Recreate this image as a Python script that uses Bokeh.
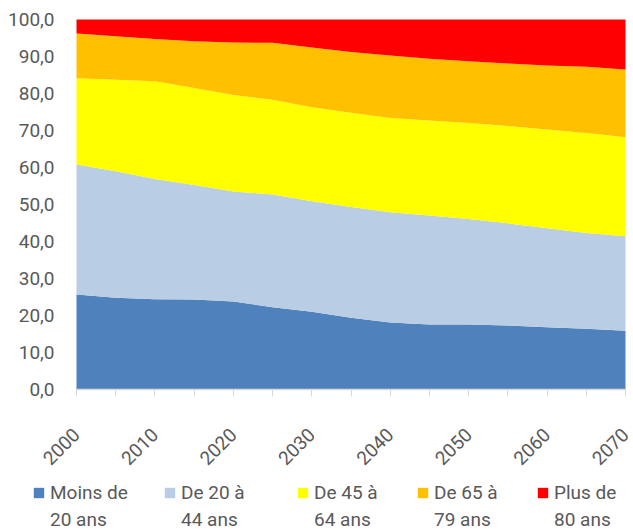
import math
from bokeh.plotting import figure
from bokeh.models import FixedTicker, Legend, LegendItem, Range1d
from bokeh.embed import file_html
from bokeh.resources import INLINE

years = [2000, 2005, 2010, 2015, 2020, 2025, 2030, 2035, 2040, 2045, 2050, 2055, 2060, 2065, 2070]
moins_20 = [25.7, 24.8, 24.4, 24.3, 23.8, 22.2, 21.0, 19.4, 18.1, 17.6, 17.6, 17.3, 16.8, 16.4, 15.9]
de_20_44 = [35.1, 34.2, 32.5, 31.0, 29.7, 30.5, 29.9, 29.9, 29.8, 29.4, 28.5, 27.6, 26.8, 25.9, 25.5]
de_45_64 = [23.3, 24.7, 26.4, 26.2, 26.1, 25.6, 25.4, 25.5, 25.5, 25.7, 25.9, 26.3, 26.7, 27.0, 26.8]
de_65_79 = [12.1, 11.8, 11.4, 12.6, 14.2, 15.4, 16.1, 16.4, 16.9, 16.7, 16.7, 16.9, 17.3, 17.9, 18.3]
plus_80 = [3.8, 4.5, 5.3, 5.9, 6.2, 6.3, 7.6, 8.8, 9.7, 10.6, 11.3, 11.9, 12.4, 12.8, 13.5]

series_keys = ["m20", "d20", "d45", "d65", "p80"]
label_line1 = ["Moins de", "De 20 à", "De 45 à", "De 65 à", "Plus de"]
label_line2 = ["20 ans", "44 ans", "64 ans", "79 ans", "80 ans"]
colors = ["#4f81bd", "#b9cde5", "#ffff00", "#ffc000", "#ff0000"]

x_label_ticks = [2000, 2010, 2020, 2030, 2040, 2050, 2060, 2070]
x_minor_ticks = [2005, 2015, 2025, 2035, 2045, 2055, 2065]
y_ticks = [0, 10, 20, 30, 40, 50, 60, 70, 80, 90, 100]
y_tick_labels = ["0,0", "10,0", "20,0", "30,0", "40,0", "50,0", "60,0", "70,0", "80,0", "90,0", "100,0"]

data = dict(year=years, m20=moins_20, d20=de_20_44, d45=de_45_64, d65=de_65_79, p80=plus_80)

FONT = "Roboto"
FSIZE = "19px"
GRAY = "#595959"

W, H = 633, 531
# plot area in pixels (left, right, top, bottom) -> ranges extended so the
# whole canvas is the frame and the axes sit at fixed data positions
PL, PR, PT, PB = 76, 625, 19, 389
x0, x1 = years[0], years[-1]
y0, y1 = 0, 100
sx = (PR - PL) / (x1 - x0)
sy = (PB - PT) / (y1 - y0)
x_range = Range1d(x0 - PL / sx, x1 + (W - PR) / sx)
y_range = Range1d(y0 - (H - PB) / sy, y1 + PT / sy)

p = figure(width=W, height=H, output_backend="svg", toolbar_location=None,
           x_range=x_range, y_range=y_range,
           min_border_left=0, min_border_right=0, min_border_top=0, min_border_bottom=0)
p.outline_line_color = None
p.background_fill_color = "white"
p.grid.visible = False

rends = p.varea_stack(stackers=series_keys, x="year", color=colors, source=data)

xa = p.xaxis[0]
xa.fixed_location = y0
xa.bounds = (x0, x1)
xa.ticker = FixedTicker(ticks=x_label_ticks, minor_ticks=x_minor_ticks)
xa.major_label_overrides = {t: str(t) for t in x_label_ticks}
xa.major_label_orientation = math.pi / 4
xa.major_label_text_font = FONT
xa.major_label_text_font_size = FSIZE
xa.major_label_text_color = GRAY
xa.axis_line_color = "#d9d9d9"
xa.axis_line_width = 1.5
xa.major_tick_line_color = "#d9d9d9"
xa.minor_tick_line_color = "#d9d9d9"
xa.major_tick_out = 7
xa.major_tick_in = 0
xa.minor_tick_out = 7
xa.minor_tick_in = 0
xa.major_label_standoff = 35

ya = p.yaxis[0]
ya.fixed_location = x0
ya.bounds = (y0, y1)
ya.ticker = FixedTicker(ticks=y_ticks)
ya.major_label_overrides = {t: l for t, l in zip(y_ticks, y_tick_labels)}
ya.major_label_text_font = FONT
ya.major_label_text_font_size = FSIZE
ya.major_label_text_color = GRAY
ya.axis_line_color = None
ya.major_tick_line_color = None
ya.minor_tick_line_color = None
ya.major_tick_out = 0
ya.major_tick_in = 0
ya.major_label_standoff = 22

blank = p.varea(x=[], y1=[], y2=[], fill_alpha=0)

legend_x = [32, 163, 296, 416, 536]
for lx, l1, l2, r in zip(legend_x, label_line1, label_line2, rends):
    lg = Legend(items=[LegendItem(label=l1, renderers=[r]), LegendItem(label=l2, renderers=[blank])],
                orientation="vertical", location=(lx, 0),
                label_text_font=FONT, label_text_font_size=FSIZE, label_text_color=GRAY,
                glyph_width=13, glyph_height=13, label_standoff=5, spacing=4,
                border_line_color=None, background_fill_alpha=0, padding=0, margin=0)
    p.add_layout(lg, "center")

open("out.html", "w").write(file_html(p, INLINE))
